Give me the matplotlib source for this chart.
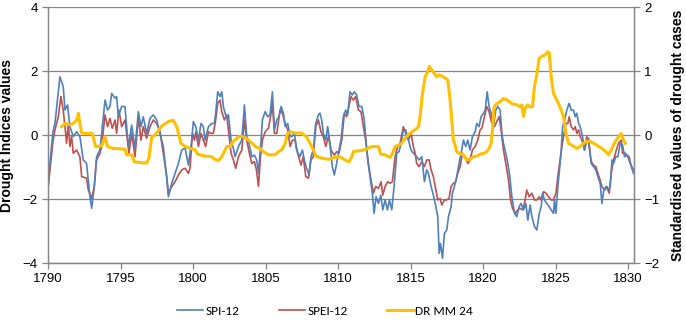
import matplotlib
matplotlib.use('Agg')
import matplotlib.pyplot as plt
from matplotlib import font_manager

# SPI-12 (left axis) as (decimal year, value) vertices
spi_years = [1790.03, 1790.34, 1790.48, 1790.82, 1791.05, 1791.17, 1791.35, 1791.51, 1791.74, 1791.97,
    1792.20, 1792.43, 1792.66, 1792.89, 1793.01, 1793.19, 1793.35, 1793.58, 1793.70, 1793.93,
    1794.11, 1794.27, 1794.39, 1794.62, 1794.73, 1794.85, 1795.08, 1795.31, 1795.42, 1795.54,
    1795.77, 1796.00, 1796.23, 1796.41, 1796.57, 1796.80, 1797.03, 1797.26, 1797.49, 1797.72,
    1797.95, 1798.18, 1798.30, 1798.53, 1798.76, 1798.99, 1799.22, 1799.45, 1799.68, 1799.91,
    1800.02, 1800.19, 1800.37, 1800.55, 1800.71, 1800.83, 1801.06, 1801.29, 1801.47, 1801.56,
    1801.70, 1801.86, 1801.98, 1802.09, 1802.21, 1802.32, 1802.44, 1802.62, 1802.78, 1802.90,
    1803.13, 1803.36, 1803.54, 1803.70, 1803.86, 1804.05, 1804.23, 1804.39, 1804.51, 1804.69,
    1804.78, 1804.97, 1805.15, 1805.31, 1805.47, 1805.61, 1805.77, 1805.93, 1806.07, 1806.23,
    1806.35, 1806.53, 1806.69, 1806.81, 1806.99, 1807.14, 1807.37, 1807.54, 1807.67, 1807.83,
    1808.00, 1808.13, 1808.29, 1808.46, 1808.64, 1808.75, 1808.87, 1808.98, 1809.15, 1809.28,
    1809.44, 1809.60, 1809.74, 1809.90, 1810.02, 1810.20, 1810.36, 1810.52, 1810.66, 1810.82,
    1810.98, 1811.12, 1811.28, 1811.44, 1811.63, 1811.79, 1811.90, 1812.04, 1812.20, 1812.36,
    1812.48, 1812.62, 1812.78, 1812.94, 1813.08, 1813.24, 1813.40, 1813.54, 1813.70, 1813.86,
    1814.04, 1814.20, 1814.34, 1814.50, 1814.66, 1814.85, 1815.03, 1815.19, 1815.42, 1815.59,
    1815.77, 1815.95, 1816.11, 1816.23, 1816.41, 1816.57, 1816.74, 1816.87, 1816.97, 1817.06,
    1817.20, 1817.33, 1817.49, 1817.61, 1817.79, 1817.88, 1818.02, 1818.18, 1818.34, 1818.48,
    1818.64, 1818.80, 1818.94, 1819.10, 1819.26, 1819.45, 1819.56, 1819.72, 1819.86, 1820.02,
    1820.14, 1820.28, 1820.41, 1820.55, 1820.71, 1820.87, 1821.01, 1821.17, 1821.29, 1821.40,
    1821.56, 1821.70, 1821.84, 1821.98, 1822.16, 1822.32, 1822.48, 1822.62, 1822.78, 1822.94,
    1823.08, 1823.24, 1823.36, 1823.54, 1823.70, 1823.87, 1824.00, 1824.10, 1824.23, 1824.39,
    1824.56, 1824.69, 1824.85, 1824.92, 1825.02, 1825.15, 1825.24, 1825.38, 1825.48, 1825.61,
    1825.77, 1825.93, 1826.07, 1826.23, 1826.35, 1826.46, 1826.58, 1826.69, 1826.85, 1826.99,
    1827.15, 1827.27, 1827.45, 1827.61, 1827.77, 1827.91, 1828.07, 1828.19, 1828.30, 1828.46,
    1828.60, 1828.76, 1828.88, 1828.99, 1829.15, 1829.29, 1829.45, 1829.61, 1829.75, 1829.91,
    1830.07, 1830.21, 1830.37]
spi = [-1.40, 0.10, 0.36, 1.82, 1.51, 0.78, 0.94, 0.26, -0.05, 0.10,
    -0.05, -0.78, -0.89, -1.93, -2.29, -1.61, -0.68, -0.47, 0.05, 1.09,
    0.78, 0.89, 1.30, 1.15, 1.20, 0.57, 0.89, 0.89, 0.26, -0.36,
    0.31, -0.42, 0.73, 0.26, 0.57, 0.05, 0.52, 0.63, 0.47, 0.05,
    -0.36, -1.30, -1.93, -1.51, -1.20, -0.89, -0.47, -0.40, -0.94, -0.16,
    0.42, 0.26, -0.16, 0.36, 0.26, -0.16, 0.26, 0.36, 0.36, 0.68,
    1.35, 1.20, 1.35, 0.89, 0.68, 0.52, 0.63, -0.16, -0.42, -0.68,
    -0.36, -0.16, 0.94, -0.05, -0.26, -0.68, -0.63, -0.78, -1.20, -0.16,
    0.47, 0.73, 0.57, 0.63, 1.35, 0.16, 0.47, 0.57, 0.89, 0.68,
    0.26, 0.36, -0.05, -0.05, 0.05, -0.47, -0.68, -0.47, -0.78, -1.04,
    -1.25, -0.68, -0.47, 0.36, 0.63, 0.68, 0.47, 0.05, -0.16, 0.26,
    -0.26, -0.99, -1.25, -0.89, -0.57, -0.16, 0.57, 0.78, 0.63, 1.35,
    1.25, 1.35, 1.25, 0.89, 0.89, 0.52, -0.05, -0.78, -1.30, -1.82,
    -2.45, -1.93, -2.14, -1.88, -2.34, -2.03, -2.34, -2.03, -2.34, -1.61,
    -0.57, -0.52, -0.26, 0.16, 0.16, -0.16, -0.47, -0.57, -0.68, -0.78,
    -0.68, -1.46, -1.09, -1.20, -1.61, -1.88, -2.24, -2.55, -3.70, -3.39,
    -3.85, -3.07, -2.97, -2.55, -2.24, -1.82, -1.61, -1.30, -0.89, -0.57,
    -0.16, -0.36, -0.16, -0.47, -0.05, 0.10, 0.36, 0.26, 0.57, 0.68,
    0.78, 1.35, 0.89, 0.68, 0.26, 0.78, 0.89, 0.78, 0.05, -0.26,
    -0.57, -0.89, -1.30, -1.93, -2.45, -2.55, -2.24, -2.14, -2.34, -2.14,
    -2.66, -2.19, -2.55, -2.86, -2.97, -2.45, -2.24, -1.82, -2.03, -2.14,
    -2.24, -2.34, -2.45, -2.03, -2.45, -1.61, -1.20, -0.47, 0.26, 0.47,
    0.78, 0.99, 0.78, 0.78, 0.57, 0.68, 0.36, 0.26, -0.05, -0.47,
    -0.16, -0.10, -0.89, -0.99, -1.09, -1.30, -1.51, -2.14, -1.77, -1.61,
    -1.72, -1.61, -0.78, -0.89, -0.68, -0.68, -0.26, -0.31, -0.68, -0.63,
    -0.68, -0.99, -1.20]

# SPEI-12 (left axis)
spei_years = [1790.03, 1790.34, 1790.48, 1790.71, 1790.89, 1791.05, 1791.17, 1791.28, 1791.40, 1791.51,
    1791.63, 1791.74, 1791.97, 1792.20, 1792.32, 1792.66, 1792.78, 1793.01, 1793.19, 1793.35,
    1793.58, 1793.70, 1793.93, 1794.11, 1794.27, 1794.43, 1794.62, 1794.73, 1794.89, 1795.08,
    1795.31, 1795.42, 1795.58, 1795.77, 1796.00, 1796.23, 1796.41, 1796.57, 1796.80, 1797.03,
    1797.26, 1797.49, 1797.72, 1797.95, 1798.18, 1798.30, 1798.53, 1798.76, 1798.99, 1799.22,
    1799.45, 1799.68, 1799.79, 1799.96, 1800.09, 1800.19, 1800.37, 1800.55, 1800.71, 1800.87,
    1801.06, 1801.24, 1801.40, 1801.56, 1801.70, 1801.86, 1801.98, 1802.16, 1802.32, 1802.44,
    1802.62, 1802.78, 1802.94, 1803.13, 1803.36, 1803.54, 1803.70, 1803.86, 1804.05, 1804.23,
    1804.37, 1804.51, 1804.65, 1804.78, 1804.97, 1805.20, 1805.38, 1805.47, 1805.61, 1805.77,
    1806.00, 1806.16, 1806.35, 1806.53, 1806.69, 1806.85, 1807.03, 1807.21, 1807.44, 1807.60,
    1807.77, 1807.95, 1808.13, 1808.29, 1808.46, 1808.64, 1808.82, 1808.98, 1809.15, 1809.33,
    1809.51, 1809.74, 1809.90, 1810.06, 1810.25, 1810.43, 1810.59, 1810.71, 1810.89, 1811.05,
    1811.21, 1811.40, 1811.58, 1811.74, 1811.90, 1812.09, 1812.27, 1812.43, 1812.59, 1812.78,
    1812.96, 1813.08, 1813.24, 1813.42, 1813.58, 1813.74, 1813.93, 1814.11, 1814.27, 1814.50,
    1814.66, 1814.85, 1815.03, 1815.19, 1815.31, 1815.42, 1815.59, 1815.77, 1815.95, 1816.11,
    1816.28, 1816.41, 1816.57, 1816.74, 1816.87, 1817.03, 1817.15, 1817.33, 1817.49, 1817.65,
    1817.79, 1817.95, 1818.11, 1818.25, 1818.41, 1818.57, 1818.76, 1818.94, 1819.10, 1819.26,
    1819.45, 1819.63, 1819.79, 1819.91, 1820.09, 1820.25, 1820.41, 1820.60, 1820.78, 1820.94,
    1821.10, 1821.24, 1821.40, 1821.56, 1821.75, 1821.89, 1822.02, 1822.21, 1822.39, 1822.55,
    1822.71, 1822.85, 1823.01, 1823.17, 1823.36, 1823.54, 1823.70, 1823.87, 1824.00, 1824.16,
    1824.33, 1824.51, 1824.69, 1824.85, 1825.02, 1825.15, 1825.31, 1825.43, 1825.54, 1825.70,
    1825.84, 1825.93, 1826.07, 1826.23, 1826.35, 1826.46, 1826.58, 1826.69, 1826.81, 1826.99,
    1827.15, 1827.27, 1827.45, 1827.61, 1827.77, 1827.91, 1828.07, 1828.19, 1828.37, 1828.53,
    1828.69, 1828.83, 1828.99, 1829.15, 1829.33, 1829.52, 1829.61, 1829.80, 1829.98, 1830.14,
    1830.37]
spei = [-1.56, -0.20, 0.16, 0.57, 1.20, 0.78, 0.26, -0.26, 0.36, -0.36,
    -0.05, -0.57, -0.47, -0.68, -1.30, -1.35, -1.72, -1.98, -1.61, -0.78,
    -0.57, -0.36, 0.63, 0.26, 0.52, 0.21, 0.47, 0.05, 0.78, 0.26,
    0.47, 0.05, -0.57, 0.05, -0.68, 0.57, -0.16, 0.26, -0.10, 0.26,
    0.47, 0.36, 0.10, -0.57, -1.30, -1.82, -1.61, -1.46, -1.25, -1.09,
    -1.04, -1.20, -1.04, 0.05, -0.16, 0.10, -0.36, 0.05, -0.16, -0.36,
    0.10, 0.05, 0.05, 0.47, 0.99, 1.09, 0.73, 0.47, 0.63, 0.16,
    -0.57, -0.78, -1.04, -0.68, -0.47, 0.47, -0.16, -0.52, -0.89, -0.83,
    -1.09, -1.61, -0.68, -0.16, 0.10, 0.21, 0.68, 0.99, 0.05, 0.05,
    0.78, 0.68, 0.36, 0.16, -0.36, -0.16, -0.16, -0.57, -0.94, -0.68,
    -1.30, -1.35, -0.78, -0.68, 0.26, 0.47, 0.10, -0.05, -0.36, -0.05,
    -0.47, -0.63, -0.52, -0.57, -0.16, 0.68, 0.57, 0.83, 1.20, 1.09,
    1.20, 0.78, 0.73, 0.26, -0.16, -0.89, -1.41, -1.82, -1.61, -1.67,
    -1.46, -1.88, -1.61, -1.46, -1.51, -1.46, -0.68, -0.36, -0.26, 0.26,
    0.05, -0.16, 0.05, -0.36, -0.57, -0.89, -0.99, -0.83, -0.99, -0.78,
    -0.78, -1.09, -1.30, -1.72, -2.03, -1.98, -2.19, -2.03, -2.03, -1.98,
    -1.61, -1.51, -1.46, -1.20, -0.99, -0.57, -0.68, -0.89, -0.78, -0.47,
    -0.36, -0.16, 0.16, 0.21, 0.57, 0.89, 0.73, 0.36, 0.26, 0.42,
    0.57, 0.16, -0.47, -0.89, -1.41, -2.03, -2.29, -2.45, -2.34, -2.29,
    -2.34, -2.14, -1.72, -1.93, -1.82, -2.03, -2.03, -1.93, -2.03, -1.77,
    -1.82, -1.93, -2.03, -2.03, -1.82, -1.30, -0.78, -0.36, -0.05, 0.36,
    0.36, 0.57, 0.26, 0.16, 0.26, 0.05, 0.16, -0.05, -0.16, -0.47,
    -0.05, -0.26, -0.83, -0.94, -0.99, -1.20, -1.41, -1.61, -1.72, -1.61,
    -1.82, -1.20, -0.78, -0.52, -0.26, -0.16, -0.57, -0.57, -0.68, -0.89,
    -1.09]

# DRMM 24 (right axis, standardised)
drmm_years = [1790.94, 1791.17, 1791.51, 1791.74, 1791.97, 1792.09, 1792.20, 1792.32, 1792.78, 1793.01,
    1793.12, 1793.28, 1793.70, 1793.93, 1794.11, 1794.50, 1795.31, 1795.42, 1795.77, 1795.95,
    1796.34, 1796.80, 1796.96, 1797.15, 1797.38, 1797.65, 1797.84, 1798.30, 1798.64, 1798.87,
    1798.99, 1799.17, 1799.45, 1799.79, 1800.14, 1800.32, 1800.83, 1801.29, 1801.52, 1801.75,
    1801.98, 1802.32, 1802.55, 1802.78, 1803.13, 1803.36, 1803.59, 1803.82, 1804.09, 1804.28,
    1804.62, 1804.85, 1805.20, 1805.66, 1805.89, 1806.12, 1806.35, 1806.53, 1806.69, 1807.03,
    1807.49, 1807.83, 1808.06, 1808.29, 1808.46, 1808.87, 1809.33, 1809.79, 1810.13, 1810.48,
    1810.75, 1810.94, 1811.05, 1811.63, 1811.97, 1812.20, 1812.43, 1812.78, 1812.94, 1813.24,
    1813.58, 1813.74, 1813.93, 1814.16, 1814.39, 1814.62, 1814.96, 1815.31, 1815.54, 1815.65,
    1815.82, 1816.00, 1816.18, 1816.28, 1816.46, 1816.64, 1816.80, 1816.97, 1817.15, 1817.38,
    1817.56, 1817.72, 1817.84, 1817.95, 1818.07, 1818.18, 1818.41, 1818.64, 1818.87, 1819.10,
    1819.33, 1819.56, 1819.79, 1820.14, 1820.37, 1820.55, 1820.64, 1820.76, 1820.94, 1821.17,
    1821.40, 1821.63, 1821.98, 1822.32, 1822.55, 1822.67, 1822.78, 1822.90, 1823.08, 1823.24,
    1823.40, 1823.54, 1823.70, 1823.87, 1824.05, 1824.28, 1824.46, 1824.56, 1824.69, 1824.85,
    1825.02, 1825.20, 1825.38, 1825.54, 1825.70, 1825.89, 1826.12, 1826.46, 1826.69, 1826.92,
    1827.15, 1827.38, 1827.61, 1827.84, 1828.19, 1828.46, 1828.65, 1828.83, 1829.11, 1829.33,
    1829.52, 1829.68, 1829.80]
drmm = [0.13, 0.18, 0.16, 0.18, 0.23, 0.34, 0.18, 0.03, 0.02, 0.03,
    -0.03, -0.18, -0.17, -0.03, -0.18, -0.21, -0.22, -0.31, -0.31, -0.42,
    -0.43, -0.44, -0.36, -0.03, 0.00, 0.08, 0.14, 0.21, 0.23, 0.13,
    0.03, -0.13, -0.18, -0.21, -0.23, -0.30, -0.33, -0.34, -0.38, -0.40,
    -0.34, -0.18, -0.18, -0.10, -0.03, -0.02, -0.04, -0.08, -0.13, -0.18,
    -0.21, -0.26, -0.31, -0.31, -0.26, -0.23, -0.13, 0.03, 0.05, 0.03,
    0.03, -0.03, -0.13, -0.23, -0.33, -0.36, -0.38, -0.35, -0.34, -0.39,
    -0.42, -0.34, -0.26, -0.24, -0.22, -0.19, -0.18, -0.18, -0.30, -0.31,
    -0.35, -0.29, -0.18, -0.16, -0.13, -0.05, 0.03, 0.08, 0.13, 0.29,
    0.65, 0.91, 0.99, 1.07, 1.02, 0.96, 0.91, 0.94, 0.92, 0.89,
    0.86, 0.55, 0.23, -0.08, -0.16, -0.26, -0.29, -0.31, -0.39, -0.38,
    -0.34, -0.33, -0.30, -0.28, -0.23, -0.13, 0.08, 0.44, 0.49, 0.52,
    0.57, 0.55, 0.49, 0.47, 0.44, 0.47, 0.29, 0.42, 0.47, 0.44,
    0.44, 0.76, 0.95, 1.20, 1.23, 1.25, 1.30, 1.28, 0.91, 0.65,
    0.57, 0.49, 0.39, 0.29, 0.03, -0.13, -0.16, -0.21, -0.18, -0.13,
    -0.10, -0.10, -0.13, -0.16, -0.21, -0.26, -0.31, -0.23, -0.10, -0.03,
    0.02, -0.08, -0.13]

year_ticks = [1790, 1795, 1800, 1805, 1810, 1815, 1820, 1825, 1830]

# calibri-like font for the legend if one is installed
font_names = set(f.name for f in font_manager.fontManager.ttflist)
legend_font = 'Liberation Sans'
for name in ['Carlito', 'Liberation Sans Narrow']:
    if name in font_names:
        legend_font = name
        break

plt.rcParams['font.family'] = ['Liberation Sans', 'DejaVu Sans']

fig = plt.figure(figsize=(6.86, 3.2), dpi=100)
ax = fig.add_axes([48/686, 57/320, 586/686, 256/320])
ax2 = ax.twinx()

grid_c = '#868686'
ax.plot(spi_years, spi, color='#4F81BD', lw=1.2, label='SPI-12', zorder=3)
ax.plot(spei_years, spei, color='#C0504D', lw=1.2, label='SPEI-12', zorder=2)
ax2.plot(drmm_years, drmm, color='#FFC000', lw=2.2, label='DR MM 24', zorder=4)

ax.set_xlim(1790, 1830.4)
ax.set_ylim(-4, 4)
ax2.set_ylim(-2, 2)
ax.set_yticks([-4, -2, 0, 2, 4])
ax2.set_yticks([-2, -1, 0, 1, 2])
ax.set_xticks(year_ticks)
ax.yaxis.grid(True, color=grid_c, lw=0.9)
ax.set_axisbelow(True)

for a in (ax, ax2):
    for side in ('top', 'left', 'right', 'bottom'):
        a.spines[side].set_color(grid_c)
        a.spines[side].set_linewidth(0.9)
    a.spines['top'].set_visible(False)
    a.tick_params(colors=grid_c, labelcolor='black', labelsize=9.5, length=4, width=0.9)
ax.tick_params(axis='x', pad=3)

ax.set_ylabel('Drought Indices values', fontsize=10, fontweight='bold', labelpad=6)
ax2.set_ylabel('Standardised values of drought cases', fontsize=10, fontweight='bold', labelpad=8)

h1, l1 = ax.get_legend_handles_labels()
h2, l2 = ax2.get_legend_handles_labels()
fig.legend(h1 + h2, l1 + l2, loc='center', bbox_to_anchor=(0.474, 0.028), ncol=3,
    frameon=False, prop={'family': legend_font, 'size': 9.5}, handlelength=2.0,
    handletextpad=0.15, columnspacing=3.0, borderpad=0.2)

fig.savefig('out.png', dpi=100)
